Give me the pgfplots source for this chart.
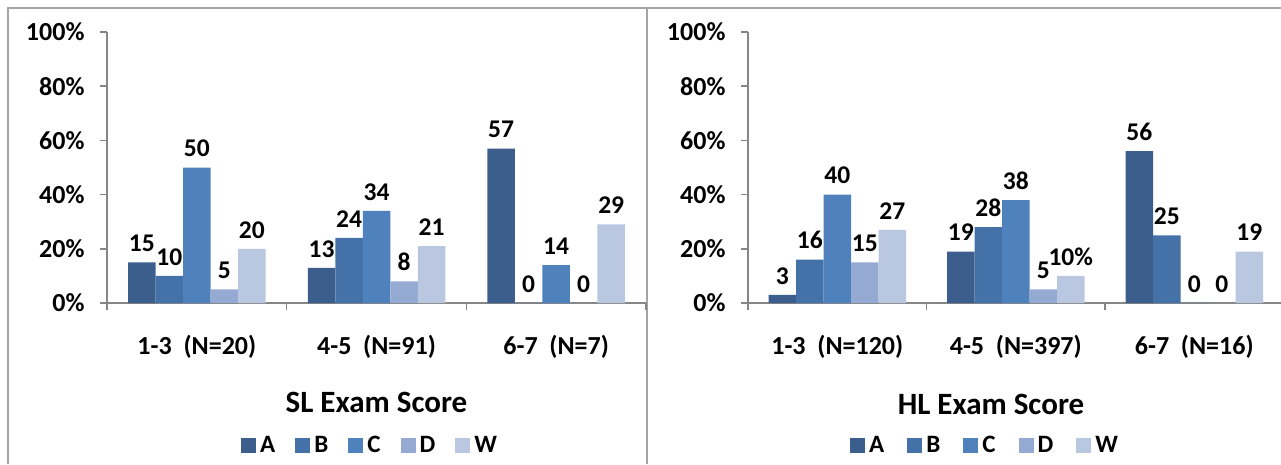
\documentclass[border=0pt]{standalone}
\usepackage{fontspec}
\setmainfont{Carlito}
\usepackage{pgfplots}
\pgfplotsset{compat=1.18}
\definecolor{cA}{HTML}{3B5E8C}
\definecolor{cB}{HTML}{4472A8}
\definecolor{cC}{HTML}{4F81BD}
\definecolor{cD}{HTML}{95AAD2}
\definecolor{cW}{HTML}{B9C7E0}
\definecolor{axgray}{HTML}{868686}
\definecolor{framegray}{HTML}{A5A5A5}
\newcommand{\lf}{\fontsize{25}{30}\selectfont\bfseries}
\pgfplotsset{
  panel/.style={
    scale only axis, height=271pt,
    ymin=0, ymax=100, xmin=-0.5, xmax=2.5,
    ybar=0pt, bar width=27.5pt,
    axis x line*=bottom, axis y line*=left,
    axis line style={-, draw=axgray, line width=1.6pt},
    tick align=outside, major tick length=7pt,
    tick style={draw=axgray, line width=1.6pt},
    ytick={0,20,40,60,80,100},
    yticklabels={0\%,20\%,40\%,60\%,80\%,100\%},
    xtick={-0.5,0.5,1.5,2.5}, xticklabels={},
    extra x ticks={0,1,2},
    extra x tick style={major tick length=0pt, xticklabel style={anchor=center, yshift=-44pt}},
    tick label style={font=\fontsize{26}{30}\selectfont\bfseries, text=black},
    yticklabel style={anchor=east, xshift=-12pt},
    nodes near coords, point meta=explicit symbolic,
    every node near coord/.append style={font=\fontsize{25.5}{30}\selectfont\bfseries, text=black, anchor=south, yshift=7pt},
    xlabel style={font=\fontsize{31}{36}\selectfont\bfseries, anchor=center},
    legend columns=5,
    legend image code/.code={\fill[##1] (0pt,-7.5pt) rectangle (15pt,7.5pt);},
    legend style={draw=none, fill=none, anchor=center, font=\lf,
      /tikz/every odd column/.append style={column sep=2pt}},
  }
}
\begin{document}
\begin{tikzpicture}[x=1pt,y=1pt]
\path[use as bounding box] (0,0) rectangle (1281,464);
\draw[framegray, line width=2pt] (8,0) -- (8,456) -- (1281,456);
\draw[framegray, line width=2pt] (647,0) -- (647,456);
% Left panel: SL
\begin{axis}[panel, width=539pt, at={(107pt,161pt)}, anchor=south west,
  extra x tick labels={1-3\ \ (N=20), 4-5\ \ (N=91), 6-7\ \ (N=7)},
  xlabel={SL Exam Score},
  xlabel style={at={(axis description cs:0.5,0)}, yshift=-99pt},
  legend style={at={(0.488,-0.524)}, /tikz/every even column/.append style={column sep=18pt}}]
\addplot[fill=cA, draw=none] coordinates {(0,15) [15] (1,13) [13] (2,57) [57]};
\addplot[fill=cB, draw=none] coordinates {(0,10) [10] (1,24) [24] (2,0) [0]};
\addplot[fill=cC, draw=none] coordinates {(0,50) [50] (1,34) [34] (2,14) [14]};
\addplot[fill=cD, draw=none] coordinates {(0,5) [5] (1,8) [8] (2,0) [0]};
\addplot[fill=cW, draw=none] coordinates {(0,20) [20] (1,21) [21] (2,29) [29]};
\legend{A,B,C,D,W}
\end{axis}
% Right panel: HL
\begin{axis}[panel, width=535.5pt, at={(748pt,161pt)}, anchor=south west,
  extra x tick labels={1-3\ \ (N=120), 4-5\ \ (N=397), 6-7\ \ (N=16)},
  xlabel={HL Exam Score},
  xlabel style={at={(axis description cs:0.4538,0)}, yshift=-101pt},
  legend style={at={(0.4426,-0.524)}, /tikz/every even column/.append style={column sep=21pt}}]
\addplot[fill=cA, draw=none] coordinates {(0,3) [3] (1,19) [19] (2,56) [56]};
\addplot[fill=cB, draw=none] coordinates {(0,16) [16] (1,28) [28] (2,25) [25]};
\addplot[fill=cC, draw=none] coordinates {(0,40) [40] (1,38) [38] (2,0) [0]};
\addplot[fill=cD, draw=none] coordinates {(0,15) [15] (1,5) [5] (2,0) [0]};
\addplot[fill=cW, draw=none] coordinates {(0,27) [27] (1,10) [10\%] (2,19) [19]};
\legend{A,B,C,D,W}
\end{axis}
\end{tikzpicture}
\end{document}
